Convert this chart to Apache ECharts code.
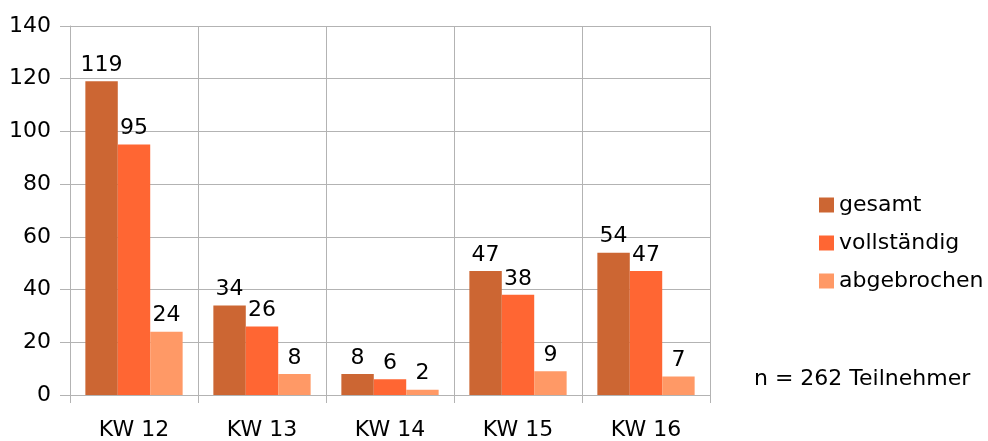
<!DOCTYPE html>
<html>
<head>
<meta charset="utf-8">
<script src="https://cdn.jsdelivr.net/npm/echarts@6/dist/echarts.min.js"></script>
<style>
  html, body { margin: 0; padding: 0; background: #fff; }
  #chart { width: 988px; height: 441px; }
</style>
</head>
<body>
<div id="chart"></div>
<script>
var categories = ['KW 12', 'KW 13', 'KW 14', 'KW 15', 'KW 16']
var gesamt = [119, 34, 8, 47, 54]
var vollstaendig = [95, 26, 6, 38, 47]
var abgebrochen = [24, 8, 2, 9, 7]
var yTicks = [0, 20, 40, 60, 80, 100, 120, 140]

var chart = echarts.init(document.getElementById('chart'))
var fontFam = '"DejaVu Sans", sans-serif'
var fontSize = 22
var gridColor = '#b3b3b3'

function makeSeries(name, data, color) {
  return {
    name: name,
    type: 'bar',
    data: data,
    barGap: '0%',
    barCategoryGap: '24%',
    itemStyle: { color: color },
    label: {
      show: true,
      position: 'top',
      distance: 5,
      color: '#000',
      fontSize: fontSize,
      fontFamily: fontFam
    }
  }
}

var option = {
  animation: false,
  grid: { left: 70, right: 278, top: 26, bottom: 46 },
  legend: {
    orient: 'vertical',
    left: 814,
    top: 189,
    itemWidth: 15,
    itemHeight: 15,
    itemGap: 16,
    icon: 'rect',
    textStyle: { color: '#000', fontSize: fontSize, fontFamily: fontFam },
    data: ['gesamt', 'vollständig', 'abgebrochen']
  },
  graphic: [{
    type: 'text',
    left: 754,
    top: 368,
    style: { text: 'n = 262 Teilnehmer', fill: '#000', font: fontSize + 'px ' + fontFam }
  }],
  xAxis: {
    type: 'category',
    data: categories,
    axisLine: { lineStyle: { color: gridColor } },
    axisTick: { show: true, length: 8, lineStyle: { color: gridColor } },
    splitLine: { show: true, lineStyle: { color: gridColor } },
    axisLabel: { color: '#000', fontSize: fontSize, fontFamily: fontFam, margin: 24 }
  },
  yAxis: {
    type: 'value',
    min: yTicks[0],
    max: yTicks[yTicks.length - 1],
    interval: 20,
    axisLine: { show: true, lineStyle: { color: gridColor } },
    axisTick: { show: true, length: 10, lineStyle: { color: gridColor } },
    splitLine: { lineStyle: { color: gridColor } },
    axisLabel: { color: '#000', fontSize: fontSize, fontFamily: fontFam, margin: 19 }
  },
  series: [
    makeSeries('gesamt', gesamt, '#cc6633'),
    makeSeries('vollständig', vollstaendig, '#ff6633'),
    makeSeries('abgebrochen', abgebrochen, '#ff9966')
  ]
}

chart.setOption(option)
</script>
</body>
</html>
